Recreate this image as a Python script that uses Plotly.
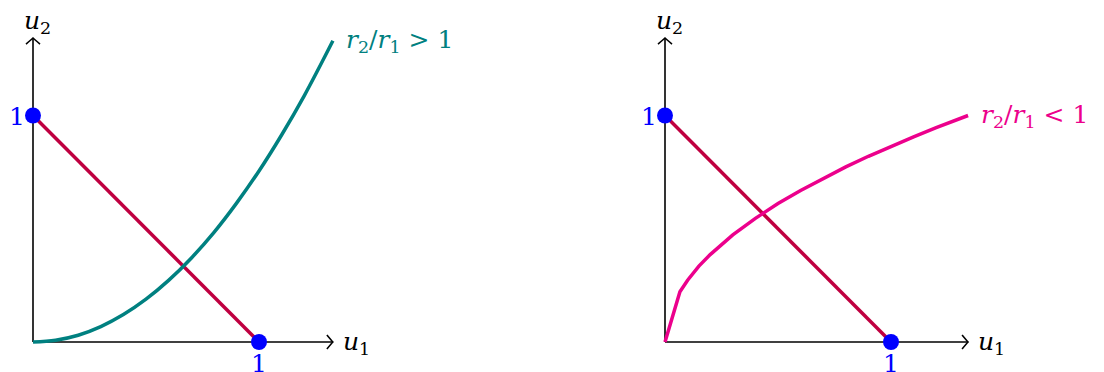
import plotly.graph_objects as go

# Line through the two unit points on each panel
line_u1 = [0.0, 1.0]
line_u2 = [1.0, 0.0]

# Convex frontier (r2/r1 > 1)
conv_u1 = [0.0, 0.1, 0.2, 0.3, 0.4, 0.5, 0.6, 0.7, 0.8, 0.9, 1.0, 1.1, 1.2, 1.327]
conv_u2 = [0.0, 0.008, 0.030, 0.068, 0.121, 0.189, 0.272, 0.370, 0.483, 0.612, 0.755, 0.914, 1.087, 1.330]

# Concave frontier (r2/r1 < 1)
conc_u1 = [0.0, 0.066, 0.1, 0.15, 0.2, 0.3, 0.4, 0.5, 0.6, 0.7, 0.8, 0.9, 1.0, 1.1, 1.2, 1.341]
conc_u2 = [0.0, 0.222, 0.273, 0.335, 0.386, 0.473, 0.546, 0.611, 0.669, 0.723, 0.773, 0.820,
           0.864, 0.906, 0.946, 1.000]

# Marked unit points
dot_u1 = [0.0, 1.0]
dot_u2 = [1.0, 0.0]

axis_len_u1 = [1.327, 1.341]
axis_len_u2 = 1.342

PURPLE = "#BF0040"
TEAL = "#008080"
PINK = "#EC008C"
BLUE = "#0000FF"
FONT = "DejaVu Serif"
FS = 25

fig = go.Figure()

panels = [("x", "y", conv_u1, conv_u2, TEAL,
           "<i>r</i><sub>2</sub>/<i>r</i><sub>1</sub> &gt; 1"),
          ("x2", "y2", conc_u1, conc_u2, PINK,
           "<i>r</i><sub>2</sub>/<i>r</i><sub>1</sub> &lt; 1")]

for i, (xa, ya, cx, cy, col, lab) in enumerate(panels):
    # axes with arrow tips
    fig.add_trace(go.Scatter(x=[0, axis_len_u1[i]], y=[0, 0], mode="lines",
                             line=dict(color="black", width=1.6), xaxis=xa, yaxis=ya,
                             showlegend=False, hoverinfo="skip"))
    fig.add_trace(go.Scatter(x=[0, 0], y=[0, axis_len_u2], mode="lines",
                             line=dict(color="black", width=1.6), xaxis=xa, yaxis=ya,
                             showlegend=False, hoverinfo="skip"))
    fig.add_shape(type="path", xref=xa, yref=ya, xsizemode="pixel", ysizemode="pixel",
                  xanchor=axis_len_u1[i], yanchor=0,
                  path="M -6,7 Q -1,1 0,0 Q -1,-1 -6,-7",
                  line=dict(color="black", width=1.6))
    fig.add_shape(type="path", xref=xa, yref=ya, xsizemode="pixel", ysizemode="pixel",
                  xanchor=0, yanchor=axis_len_u2,
                  path="M -7,-6 Q -1,-1 0,0 Q 1,-1 7,-6",
                  line=dict(color="black", width=1.6))

    # curves
    fig.add_trace(go.Scatter(x=line_u1, y=line_u2, mode="lines",
                             line=dict(color=PURPLE, width=3.5), xaxis=xa, yaxis=ya,
                             showlegend=False))
    fig.add_trace(go.Scatter(x=cx, y=cy, mode="lines",
                             line=dict(color=col, width=3.5, shape="spline" if i == 0 else "linear"),
                             xaxis=xa, yaxis=ya, showlegend=False))
    fig.add_trace(go.Scatter(x=dot_u1, y=dot_u2, mode="markers",
                             marker=dict(color=BLUE, size=16), xaxis=xa, yaxis=ya,
                             showlegend=False))

    # labels
    ann = dict(xref=xa, yref=ya, showarrow=False)
    fig.add_annotation(x=axis_len_u1[i], y=0, text="<i>u</i><sub>1</sub>", xanchor="left",
                       xshift=8, yshift=-1, font=dict(color="black"), **ann)
    fig.add_annotation(x=0, y=axis_len_u2, text="<i>u</i><sub>2</sub>", xanchor="center",
                       yanchor="bottom", xshift=4, yshift=-2, font=dict(color="black"), **ann)
    fig.add_annotation(x=0, y=1, text="1", xanchor="right", xshift=-6, yshift=-1,
                       font=dict(color=BLUE), **ann)
    fig.add_annotation(x=1, y=0, text="1", yanchor="middle", yshift=-21,
                       font=dict(color=BLUE), **ann)
    fig.add_annotation(x=cx[-1], y=cy[-1], text=lab, xanchor="left", xshift=11,
                       font=dict(color=col), **ann)

hidden = dict(visible=False, fixedrange=True)
fig.update_layout(
    width=1104, height=372,
    margin=dict(l=0, r=0, t=0, b=0),
    font=dict(family=FONT, size=FS, color="black"),
    plot_bgcolor="white", paper_bgcolor="white",
    xaxis=dict(domain=[0, 0.5], range=[-33 / 226, 519 / 226], **hidden),
    xaxis2=dict(domain=[0.5, 1], range=[-113 / 226, 439 / 226], **hidden),
    yaxis=dict(domain=[0, 1], range=[-30 / 226.5, 342 / 226.5], **hidden),
    yaxis2=dict(domain=[0, 1], range=[-30 / 226.5, 342 / 226.5], anchor="x2", **hidden),
)

fig.write_html("out.html")
